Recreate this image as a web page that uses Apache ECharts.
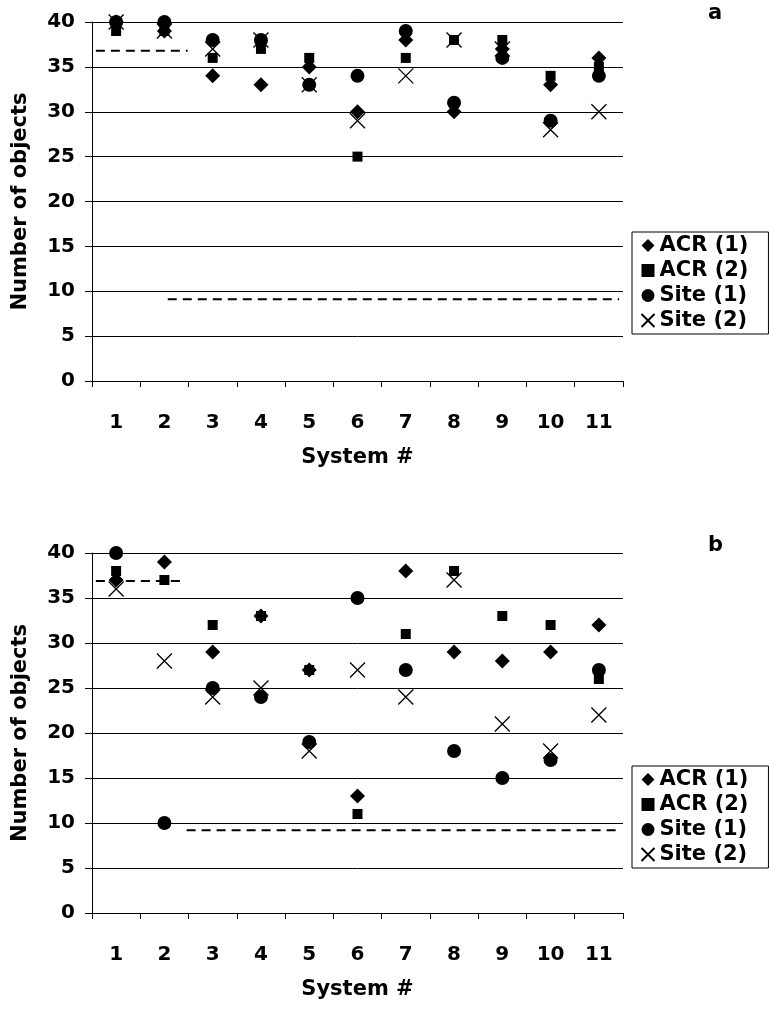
<!DOCTYPE html>
<html><head><meta charset="utf-8">
<script src="https://cdn.jsdelivr.net/npm/echarts@6/dist/echarts.min.js"></script>
<style>html,body{margin:0;padding:0;background:#fff}#c{width:769px;height:1011px}</style>
</head><body><div id="c"></div>
<script>
const categories = ['1','2','3','4','5','6','7','8','9','10','11'];
const yTicks = [0,5,10,15,20,25,30,35,40];
const seriesNames = ['ACR (1)','ACR (2)','Site (1)','Site (2)'];
// Panel a
const aACR1 = [40,39,34,33,35,30,38,30,37,33,36];
const aACR2 = [39,39,36,37,36,25,36,38,38,34,35];
const aSite1 = [40,40,38,38,33,34,39,31,36,29,34];
const aSite2 = [40,39,37,38,33,29,34,38,37,28,30];
// Panel b
const bACR1 = [37,39,29,33,27,13,38,29,28,29,32];
const bACR2 = [38,37,32,33,27,11,31,38,33,32,26];
const bSite1 = [40,10,25,24,19,35,27,18,15,17,27];
const bSite2 = [36,28,24,25,18,27,24,37,21,18,22];
// dashed reference lines: [x, y] on a 0..11 continuous scale
const aDashTop = [[0.08,36.8],[1.98,36.8]];
const aDashBot = [[1.57,9.1],[10.92,9.1]];
const bDashTop = [[0.08,36.9],[1.88,36.9]];
const bDashBot = [[1.96,9.2],[10.92,9.2]];

const FONT = 'DejaVu Sans';
const FS = 20;
const FT = 21;
const xPath = 'path://M0,0L10,10M10,0L0,10';
const symbols = ['diamond','rect','circle',xPath];
const sizes = [15,10,14,15];

const grids = [
  {left:92, top:22, width:531, height:359, outerBoundsMode:'none'},
  {left:92, top:553, width:531, height:360, outerBoundsMode:'none'}
];
const xAxes = [], yAxes = [], series = [];
grids.forEach((g,i)=>{
  xAxes.push({type:'category', gridIndex:i, data:categories, boundaryGap:true,
    name:'System #', nameLocation:'middle', nameGap:66,
    nameTextStyle:{fontFamily:FONT,fontWeight:'bold',fontSize:FT,color:'#000'},
    axisLine:{lineStyle:{color:'#000',width:1}},
    axisTick:{show:true,length:6,lineStyle:{color:'#000'}},
    axisLabel:{fontFamily:FONT,fontWeight:'bold',fontSize:FS,color:'#000',margin:32},
    splitLine:{show:false}});
  xAxes.push({type:'value', gridIndex:i, min:0, max:11, show:false});
  yAxes.push({type:'value', gridIndex:i, min:0, max:40, interval:5,
    name:'Number of objects', nameLocation:'middle', nameGap:61, nameRotate:90,
    nameTextStyle:{fontFamily:FONT,fontWeight:'bold',fontSize:FT,color:'#000'},
    axisLine:{show:true,lineStyle:{color:'#000',width:1}},
    axisTick:{show:true,length:7,lineStyle:{color:'#000'}},
    axisLabel:{fontFamily:FONT,fontWeight:'bold',fontSize:FS,color:'#000',margin:17},
    splitLine:{show:true,lineStyle:{color:'#000',width:1}}});
});
const panels = [[aACR1,aACR2,aSite1,aSite2],[bACR1,bACR2,bSite1,bSite2]];
const dashes = [[aDashTop,aDashBot],[bDashTop,bDashBot]];
panels.forEach((vals,i)=>{
  dashes[i].forEach(d=>{
    series.push({type:'line', xAxisIndex:i*2+1, yAxisIndex:i, data:d, symbol:'none', silent:true,
      lineStyle:{color:'#000',width:2,type:[9,6]}, z:1});
  });
  vals.forEach((v,k)=>{
    const isX = k===3;
    series.push({type:'scatter', name:seriesNames[k], xAxisIndex:i*2, yAxisIndex:i,
      data:v, symbol:symbols[k], symbolSize:sizes[k], z:2+k,
      itemStyle: isX ? {color:'none', borderColor:'#000', borderWidth:1.3, opacity:1} : {color:'#000', opacity:1}});
  });
});
const legendCommon = {orient:'vertical', left:632, borderColor:'#000', borderWidth:1,
  padding:[3,20,3,7], itemGap:4, itemWidth:13, itemHeight:13,
  textStyle:{fontFamily:FONT,fontWeight:'bold',fontSize:FT,color:'#000',lineHeight:21},
  selectedMode:false, data:seriesNames};
const chart = echarts.init(document.getElementById('c'), null, {renderer:'canvas'});
chart.setOption({
  animation:false,
  textStyle:{fontFamily:FONT},
  grid:grids, xAxis:xAxes, yAxis:yAxes, series:series,
  legend:[Object.assign({top:232},legendCommon), Object.assign({top:766},legendCommon)],
  graphic:[
    {type:'text', left:708, top:3, style:{text:'a', fontFamily:FONT, fontWeight:'bold', fontSize:FT, fill:'#000'}},
    {type:'text', left:708, top:535, style:{text:'b', fontFamily:FONT, fontWeight:'bold', fontSize:FT, fill:'#000'}}
  ]
});
</script></body></html>
